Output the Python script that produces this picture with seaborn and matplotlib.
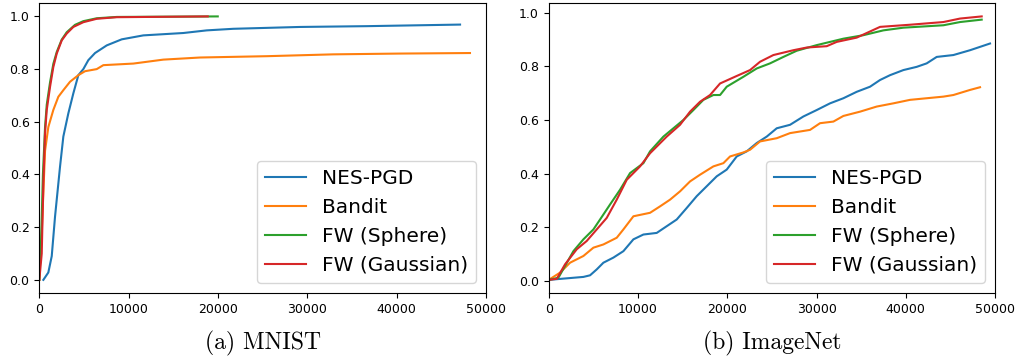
import matplotlib
matplotlib.use("Agg")
import matplotlib.pyplot as plt
import seaborn as sns
import pandas as pd

methods = ["NES-PGD", "Bandit", "FW (Sphere)", "FW (Gaussian)"]
captions = ["(a) MNIST", "(b) ImageNet"]

# ---- MNIST ----
mn_nes_x = [450, 1007, 1388, 1757, 2317, 2687, 3246, 3806, 4366, 4925, 5485, 6235,
            7544, 9223, 11640, 16118, 18736, 21715, 29180, 36645, 47090]
mn_nes_y = [0.0, 0.028, 0.09, 0.24, 0.43, 0.544, 0.632, 0.708, 0.777, 0.80, 0.834, 0.861,
            0.89, 0.913, 0.928, 0.937, 0.947, 0.953, 0.96, 0.963, 0.969]
mn_bandit_x = [0, 120, 270, 640, 1007, 1567, 2127, 2687, 3436, 4366, 5115, 6424, 7164,
               10522, 13880, 17987, 25450, 32910, 40370, 48200]
mn_bandit_y = [0.0, 0.10, 0.18, 0.49, 0.58, 0.645, 0.695, 0.72, 0.752, 0.777, 0.792, 0.80, 0.815,
               0.821, 0.836, 0.844, 0.849, 0.856, 0.859, 0.861]
mn_sphere_x = [0, 200, 400, 640, 830, 1200, 1567, 1948, 2507, 3067, 3990, 4925, 6424, 8663, 19970]
mn_sphere_y = [0.0, 0.15, 0.40, 0.58, 0.665, 0.75, 0.82, 0.865, 0.912, 0.94, 0.968, 0.982, 0.993, 0.998, 1.0]
mn_gauss_x = [0, 270, 450, 640, 830, 1200, 1567, 1948, 2507, 3067, 3806, 4925, 6424, 8663, 18850]
mn_gauss_y = [0.0, 0.10, 0.368, 0.557, 0.645, 0.733, 0.808, 0.859, 0.909, 0.935, 0.96, 0.978, 0.991, 0.997, 1.0]

# ---- ImageNet ----
in_nes_x = [0, 3883, 4630, 5377, 6124, 7244, 8364, 9484, 10605, 12098, 13218, 14339, 15459,
            16579, 17700, 18820, 19940, 21060, 22180, 23300, 24421, 25541, 27034, 28528,
            30021, 31515, 33009, 34502, 35996, 37116, 38236, 39730, 41223, 42343, 43463,
            45330, 47197, 49437]
in_nes_y = [0.004, 0.015, 0.021, 0.043, 0.068, 0.087, 0.111, 0.155, 0.173, 0.179, 0.204, 0.229, 0.272,
            0.316, 0.353, 0.39, 0.415, 0.464, 0.483, 0.514, 0.538, 0.569, 0.582, 0.613,
            0.637, 0.662, 0.681, 0.705, 0.724, 0.749, 0.767, 0.786, 0.798, 0.811, 0.835,
            0.842, 0.86, 0.885]
in_bandit_x = [0, 1270, 2390, 3883, 5004, 6124, 7618, 8364, 9484, 11351, 12471, 13592, 14712,
               15832, 16952, 18446, 19566, 20313, 21807, 22553, 23673, 25541, 27034, 29274,
               30395, 31888, 33009, 34876, 36743, 38610, 40477, 42343, 44210, 45330, 47197, 48317]
in_bandit_y = [0.004, 0.031, 0.068, 0.093, 0.124, 0.136, 0.161, 0.192, 0.241, 0.254, 0.278, 0.303, 0.334,
               0.371, 0.396, 0.427, 0.439, 0.464, 0.479, 0.489, 0.52, 0.532, 0.551, 0.563,
               0.588, 0.594, 0.615, 0.631, 0.65, 0.662, 0.675, 0.681, 0.687, 0.693, 0.712, 0.722]
in_sphere_x = [0, 1083, 1830, 2763, 3883, 5004, 5750, 6871, 7991, 9111, 10605, 11351, 12845,
               13965, 15085, 16205, 17326, 18446, 19193, 19940, 21807, 23300, 24794, 26287,
               27781, 30021, 31515, 33009, 35249, 37489, 39730, 44210, 46077, 48504]
in_sphere_y = [0.004, 0.012, 0.056, 0.111, 0.155, 0.192, 0.229, 0.285, 0.34, 0.402, 0.439, 0.483, 0.538,
               0.569, 0.6, 0.637, 0.675, 0.693, 0.693, 0.724, 0.761, 0.792, 0.811, 0.835,
               0.858, 0.879, 0.891, 0.903, 0.916, 0.934, 0.944, 0.953, 0.965, 0.974]
in_gauss_x = [0, 900, 1830, 3137, 4257, 5377, 6497, 7618, 8738, 10231, 11351, 13218, 14712,
              15832, 16952, 18072, 19193, 21060, 22553, 23673, 25167, 27407, 28901, 31141,
              32262, 34502, 37116, 40477, 44210, 46077, 48504]
in_gauss_y = [0.004, 0.008, 0.062, 0.118, 0.149, 0.192, 0.235, 0.303, 0.377, 0.427, 0.476, 0.538, 0.582,
              0.631, 0.668, 0.693, 0.736, 0.764, 0.786, 0.817, 0.842, 0.86, 0.87, 0.875,
              0.891, 0.907, 0.947, 0.955, 0.965, 0.978, 0.986]

panels = [
    [(mn_nes_x, mn_nes_y), (mn_bandit_x, mn_bandit_y), (mn_sphere_x, mn_sphere_y), (mn_gauss_x, mn_gauss_y)],
    [(in_nes_x, in_nes_y), (in_bandit_x, in_bandit_y), (in_sphere_x, in_sphere_y), (in_gauss_x, in_gauss_y)],
]

palette = dict(zip(methods, sns.color_palette("tab10", 4)))

fig = plt.figure(figsize=(10.19, 3.6), dpi=100)
axes_pos = [[0.0386, 0.186, 0.4384, 0.805], [0.5385, 0.186, 0.438, 0.805]]

for pos, series, cap in zip(axes_pos, panels, captions):
    ax = fig.add_axes(pos)
    rows = []
    for name, (xs, ys) in zip(methods, series):
        for xv, yv in zip(xs, ys):
            rows.append({"queries": xv, "rate": yv, "method": name})
    df = pd.DataFrame(rows)
    sns.lineplot(data=df, x="queries", y="rate", hue="method", hue_order=methods,
                 palette=palette, estimator=None, errorbar=None, linewidth=1.5, ax=ax)
    ax.set_xlim(0, 50000)
    ax.set_xlabel("")
    ax.set_ylabel("")
    ax.tick_params(labelsize=9)
    ax.legend(loc="lower right", fontsize=14.5, title=None)
    fig.text(pos[0] + pos[2] / 2, 1 - 343 / 360, cap, ha="center", va="center",
             fontsize=17, family="cmr10")

fig.savefig("out.png", dpi=100)
